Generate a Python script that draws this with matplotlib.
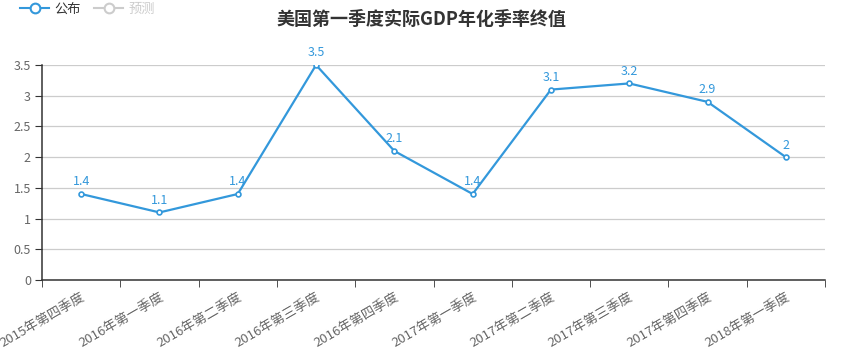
import numpy as np
import matplotlib.pyplot as plt
from matplotlib.lines import Line2D

plt.rcParams['font.family'] = ['Noto Sans CJK SC', 'DejaVu Sans']

quarters = ['2015年第四季度', '2016年第一季度', '2016年第二季度', '2016年第三季度',
            '2016年第四季度', '2017年第一季度', '2017年第二季度', '2017年第三季度',
            '2017年第四季度', '2018年第一季度']
gdp = [1.4, 1.1, 1.4, 3.5, 2.1, 1.4, 3.1, 3.2, 2.9, 2]
yticks = [0, 0.5, 1, 1.5, 2, 2.5, 3, 3.5]
ytick_labels = ['0', '0.5', '1', '1.5', '2', '2.5', '3', '3.5']

blue = '#3398db'
grey = '#666666'

fig = plt.figure(figsize=(8.42, 3.57), dpi=100)
ax = fig.add_axes([0.0499, 0.2157, 0.9299, 0.6022])

x = np.arange(len(gdp))
ax.plot(x, gdp, color=blue, lw=1.6, marker='o', ms=3.5,
        mfc='white', mec=blue, mew=1.2, zorder=3)
for xi, v in zip(x, gdp):
    ax.annotate('%g' % v, (xi, v), xytext=(0, 4), textcoords='offset points',
                ha='center', va='bottom', color=blue, fontsize=9)

ax.set_xlim(-0.5, len(gdp) - 0.5)
ax.set_ylim(0, 3.5)
ax.set_yticks(yticks)
ax.set_yticklabels(ytick_labels)
ax.set_xticks(x)
ax.set_xticklabels(quarters, rotation=30, ha='right', rotation_mode='anchor')
ax.set_xticks(np.arange(-0.5, len(gdp)), minor=True)
ax.tick_params(axis='x', which='major', length=0, pad=8, labelsize=9.5, labelcolor=grey)
ax.tick_params(axis='x', which='minor', length=5, color='#333333', direction='out')
ax.tick_params(axis='y', length=5, color='#333333', labelsize=9, labelcolor=grey, pad=3)

ax.grid(axis='y', color='#cccccc', lw=0.9)
ax.set_axisbelow(True)
for s in ['top', 'right']:
    ax.spines[s].set_visible(False)
for s in ['left', 'bottom']:
    ax.spines[s].set_color('#333333')
    ax.spines[s].set_linewidth(1.1)

fig.text(0.5, 0.945, '美国第一季度实际GDP年化季率终值', ha='center', va='center',
         fontsize=13, fontweight='bold', color='#333333')

handles = [Line2D([], [], color=blue, lw=1.5, marker='o', ms=7, mfc='white', mew=1.5),
           Line2D([], [], color='#cccccc', lw=1.5, marker='o', ms=7, mfc='white', mew=1.5)]
leg = fig.legend(handles, ['公布', '预测'], loc='upper left', bbox_to_anchor=(0.01, 1.025),
                 ncol=2, frameon=False, fontsize=9.5, handlelength=2.2,
                 handletextpad=0.4, columnspacing=1.0)
leg.get_texts()[0].set_color('#333333')
leg.get_texts()[1].set_color('#cccccc')

fig.savefig('out.png', dpi=100)
